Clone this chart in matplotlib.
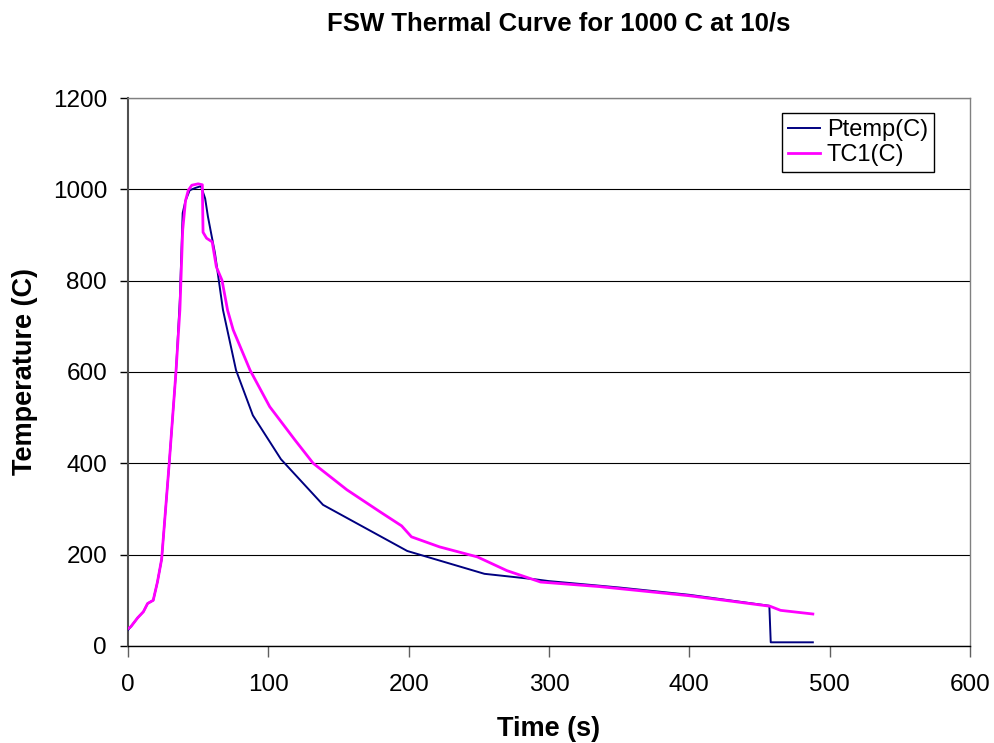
import matplotlib
matplotlib.use('Agg')
import matplotlib.pyplot as plt

plt.rcParams['font.family'] = ['Liberation Sans', 'DejaVu Sans']

# Ptemp(C) readings
ptemp_t = [0, 2, 7, 11, 14, 18, 21, 24, 29.4, 34.2, 37, 39, 41, 44, 48, 52, 55, 57, 62,
           67.7, 77, 89, 109, 139, 199, 254, 290, 300, 350, 400, 457, 458, 488]
ptemp_T = [35, 42, 62, 75, 93, 100, 140, 190, 400, 600, 760, 948, 975, 998, 1003, 1007, 980,
           940, 860, 736, 604, 505, 409, 309, 208, 158, 146, 142, 128, 112, 88, 8, 8]

# TC1(C) readings
tc1_t = [0, 2, 7, 11, 14, 18, 21, 24, 29.4, 34.2, 37, 39, 41, 43, 45.5, 50, 53, 53.5, 56, 60,
         63, 67, 71, 75, 87, 101, 119, 132, 156, 180, 195, 202, 222, 249, 270, 294, 336, 400,
         457.5, 465, 488]
tc1_T = [38, 42, 62, 75, 93, 100, 140, 190, 400, 600, 736, 911, 975, 998, 1009, 1012, 1010,
         906, 893, 885, 830, 801, 735, 692, 604, 524, 451, 400, 342, 293, 263, 239, 217, 195,
         165, 140, 130, 110, 87, 78, 70]

fig = plt.figure(figsize=(9.95, 7.43), dpi=100)
ax = fig.add_axes([0.1286, 0.1306, 0.8463, 0.7375])

ax.plot(ptemp_t, ptemp_T, color='#000080', lw=1.4, label='Ptemp(C)', zorder=3)
ax.plot(tc1_t, tc1_T, color='#FF00FF', lw=2.0, label='TC1(C)', zorder=4)

ax.set_xlim(0, 600)
ax.set_ylim(0, 1200)
ax.set_xticks(range(0, 601, 100))
ax.set_yticks(range(0, 1201, 200))
ax.yaxis.grid(True, color='black', lw=0.8)
ax.set_axisbelow(True)

for s in ['top', 'right']:
    ax.spines[s].set_color('#808080')
    ax.spines[s].set_linewidth(1)
ax.spines['left'].set_color('#505050')
ax.spines['left'].set_linewidth(1.5)
ax.spines['bottom'].set_color('black')
ax.spines['bottom'].set_linewidth(1)

ax.tick_params(axis='x', direction='out', length=8, width=1, labelsize=17.5, pad=12,
               color='#606060')
ax.tick_params(axis='y', direction='out', length=6, width=1, labelsize=17.5, pad=9,
               color='black')

ax.set_xlabel('Time (s)', fontsize=19.5, fontweight='bold')
ax.xaxis.set_label_coords(0.5, -0.1516)
ax.xaxis.label.set_va('center')
ax.set_ylabel('Temperature (C)', fontsize=19.5, fontweight='bold')
ax.yaxis.set_label_coords(-0.1223, 0.5)
ax.yaxis.label.set_va('center')
fig.text(0.561, 0.968, 'FSW Thermal Curve for 1000 C at 10/s', fontsize=18.5,
         fontweight='bold', ha='center', va='center')

leg = ax.legend(loc='upper right', bbox_to_anchor=(0.957, 0.9726), fontsize=17, frameon=True,
                fancybox=False, framealpha=1, edgecolor='black', handlelength=1.35,
                borderpad=0.25, labelspacing=0.15, handletextpad=0.3, borderaxespad=0)
leg.get_frame().set_linewidth(1)

fig.savefig('out.png', dpi=100)
